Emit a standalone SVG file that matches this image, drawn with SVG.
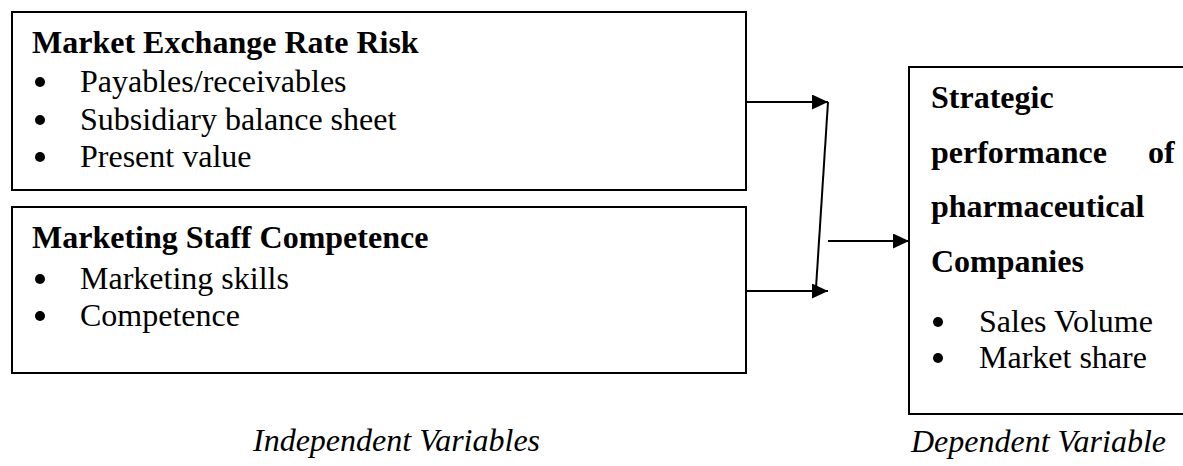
<svg xmlns="http://www.w3.org/2000/svg" width="1183" height="466" viewBox="0 0 1183 466">
<style>
.box{fill:#fff;stroke:#000;stroke-width:2}
.t{font-family:"Liberation Serif","Times New Roman",serif;font-size:32px;fill:#000}
.b{font-weight:bold}
.i{font-style:italic}
.ln{stroke:#000;stroke-width:2;fill:none}
</style>
<defs>
<marker id="ah" viewBox="0 0 16 15" refX="16" refY="7.5" markerWidth="16" markerHeight="15" markerUnits="userSpaceOnUse" orient="auto">
<path d="M0,0 L16,7.5 L0,15 Z" fill="#000"/>
</marker>
</defs>
<rect width="1183" height="466" fill="#fff"/>
<g id="node-exchange">
<rect class="box" x="12" y="12" width="734" height="178"/>
<text class="t b" x="32" y="53">Market Exchange Rate Risk</text>
<circle cx="40" cy="82" r="5"/><text class="t" x="80" y="92">Payables/receivables</text>
<circle cx="40" cy="120" r="5"/><text class="t" x="80" y="130">Subsidiary balance sheet</text>
<circle cx="40" cy="157" r="5"/><text class="t" x="80" y="167">Present value</text>
</g>
<g id="node-staff">
<rect class="box" x="12" y="207" width="734" height="166"/>
<text class="t b" x="32" y="248">Marketing Staff Competence</text>
<circle cx="40" cy="279" r="5"/><text class="t" x="80" y="289">Marketing skills</text>
<circle cx="40" cy="316" r="5"/><text class="t" x="80" y="326">Competence</text>
</g>
<g id="node-performance">
<rect class="box" x="909" y="67" width="290" height="347"/>
<text class="t b" x="931" y="108">Strategic</text>
<text class="t b" x="931" y="163">performance</text>
<text class="t b" x="1148" y="163">of</text>
<text class="t b" x="931" y="217">pharmaceutical</text>
<text class="t b" x="931" y="272">Companies</text>
<circle cx="938" cy="322" r="5"/><text class="t" x="979" y="332">Sales Volume</text>
<circle cx="938" cy="358" r="5"/><text class="t" x="979" y="368">Market share</text>
</g>
<g id="connectors">
<line class="ln" x1="746" y1="102" x2="828" y2="102" marker-end="url(#ah)"/>
<line class="ln" x1="746" y1="291" x2="828" y2="291" marker-end="url(#ah)"/>
<line class="ln" x1="828" y1="102" x2="816" y2="288"/>
<line class="ln" x1="828" y1="241" x2="909" y2="241" marker-end="url(#ah)"/>
</g>
<g id="labels">
<text class="t i" x="253" y="451">Independent Variables</text>
<text class="t i" x="911" y="452">Dependent Variable</text>
</g>
</svg>
